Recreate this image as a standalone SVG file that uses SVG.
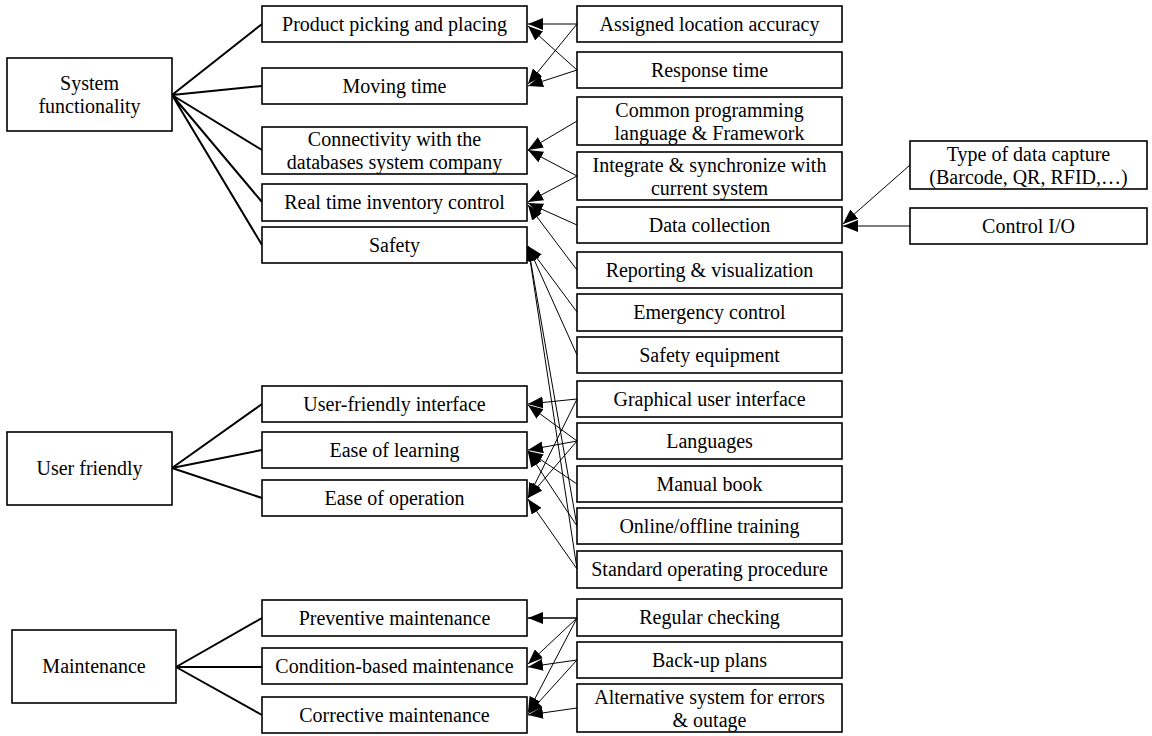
<svg xmlns="http://www.w3.org/2000/svg" width="1152" height="736" viewBox="0 0 1152 736">
<style>
.box{fill:#fff;stroke:#000;stroke-width:1.6}
text{font-family:"Times New Roman","Liberation Serif",Tinos,"DejaVu Serif",serif;font-size:20px;fill:#000;text-anchor:middle}
.thick{stroke:#000;stroke-width:2;fill:none}
.arr{stroke:#000;stroke-width:1;fill:none;marker-end:url(#ah)}
</style>
<defs>
<marker id="ah" markerUnits="userSpaceOnUse" markerWidth="16" markerHeight="12" refX="15" refY="6" orient="auto" viewBox="0 0 16 12">
<path d="M0,0 L15,6 L0,12 z" fill="#000"/>
</marker>
</defs>
<rect width="1152" height="736" fill="#fff"/>
<g id="connectors">
<path class="thick" d="M172,95 L262,24 M172,95 L262,86 M172,95 L262,150 M172,95 L262,202 M172,95 L262,245"/>
<path class="thick" d="M172,468 L262,404 M172,468 L262,450 M172,468 L262,498"/>
<path class="thick" d="M176,667 L262,618 M176,667 L262,667 M176,667 L262,715"/>
<line class="arr" x1="577" y1="24" x2="528" y2="24"/>
<line class="arr" x1="577" y1="24" x2="528" y2="84"/>
<line class="arr" x1="577" y1="70" x2="528" y2="26"/>
<line class="arr" x1="577" y1="70" x2="528" y2="86"/>
<line class="arr" x1="577" y1="121" x2="528" y2="150"/>
<line class="arr" x1="577" y1="176" x2="528" y2="150"/>
<line class="arr" x1="577" y1="176" x2="528" y2="202"/>
<line class="arr" x1="577" y1="225" x2="528" y2="203"/>
<line class="arr" x1="577" y1="270" x2="528" y2="205"/>
<line class="arr" x1="577" y1="312" x2="528" y2="246"/>
<line class="arr" x1="577" y1="355" x2="528" y2="246"/>
<line class="arr" x1="577" y1="526" x2="528" y2="246"/>
<line class="arr" x1="577" y1="569" x2="528" y2="246"/>
<line class="arr" x1="577" y1="399" x2="528" y2="404"/>
<line class="arr" x1="577" y1="399" x2="528" y2="498"/>
<line class="arr" x1="577" y1="441" x2="528" y2="405"/>
<line class="arr" x1="577" y1="441" x2="528" y2="450"/>
<line class="arr" x1="577" y1="441" x2="528" y2="498"/>
<line class="arr" x1="577" y1="484" x2="528" y2="451"/>
<line class="arr" x1="577" y1="526" x2="528" y2="452"/>
<line class="arr" x1="577" y1="569" x2="528" y2="499"/>
<line class="arr" x1="577" y1="618" x2="528" y2="618" style="stroke-width:1.6"/>
<line class="arr" x1="577" y1="618" x2="528" y2="664"/>
<line class="arr" x1="577" y1="618" x2="528" y2="712"/>
<line class="arr" x1="577" y1="660" x2="528" y2="667"/>
<line class="arr" x1="577" y1="660" x2="528" y2="714"/>
<line class="arr" x1="577" y1="708" x2="528" y2="715"/>
<line class="arr" x1="910" y1="165" x2="843" y2="224"/>
<line class="arr" x1="910" y1="226" x2="843" y2="226"/>
</g>
<g id="n-system-functionality"><rect class="box" x="7" y="58" width="165" height="73"/><text x="89.5" y="90">System</text><text x="89.5" y="113">functionality</text></g>
<g id="n-user-friendly"><rect class="box" x="7" y="432" width="165" height="73"/><text x="89.5" y="475">User friendly</text></g>
<g id="n-maintenance"><rect class="box" x="12" y="630" width="164" height="73"/><text x="94" y="673">Maintenance</text></g>
<g id="n-product"><rect class="box" x="262" y="6" width="265" height="36"/><text x="394.5" y="31">Product picking and placing</text></g>
<g id="n-moving"><rect class="box" x="262" y="68" width="265" height="36"/><text x="394.5" y="93">Moving time</text></g>
<g id="n-connectivity"><rect class="box" x="262" y="127" width="265" height="47"/><text x="394.5" y="146">Connectivity with the</text><text x="394.5" y="169">databases system company</text></g>
<g id="n-realtime"><rect class="box" x="262" y="184" width="265" height="37"/><text x="394.5" y="209">Real time inventory control</text></g>
<g id="n-safety"><rect class="box" x="262" y="227" width="265" height="36"/><text x="394.5" y="252">Safety</text></g>
<g id="n-ufi"><rect class="box" x="262" y="386" width="265" height="36"/><text x="394.5" y="411">User-friendly interface</text></g>
<g id="n-eol"><rect class="box" x="262" y="432" width="265" height="36"/><text x="394.5" y="457">Ease of learning</text></g>
<g id="n-eoo"><rect class="box" x="262" y="480" width="265" height="36"/><text x="394.5" y="505">Ease of operation</text></g>
<g id="n-preventive"><rect class="box" x="262" y="600" width="265" height="36"/><text x="394.5" y="625">Preventive maintenance</text></g>
<g id="n-condition"><rect class="box" x="262" y="648" width="265" height="36"/><text x="394.5" y="673">Condition-based maintenance</text></g>
<g id="n-corrective"><rect class="box" x="262" y="697" width="265" height="36"/><text x="394.5" y="722">Corrective maintenance</text></g>
<g id="n-assigned"><rect class="box" x="577" y="6" width="265" height="36"/><text x="709.5" y="31">Assigned location accuracy</text></g>
<g id="n-response"><rect class="box" x="577" y="52" width="265" height="36"/><text x="709.5" y="77">Response time</text></g>
<g id="n-common"><rect class="box" x="577" y="97" width="265" height="48"/><text x="709.5" y="117">Common programming</text><text x="709.5" y="140">language &amp; Framework</text></g>
<g id="n-integrate"><rect class="box" x="577" y="152" width="265" height="48"/><text x="709.5" y="172">Integrate &amp; synchronize with</text><text x="709.5" y="195">current system</text></g>
<g id="n-datacollection"><rect class="box" x="577" y="207" width="265" height="36"/><text x="709.5" y="232">Data collection</text></g>
<g id="n-reporting"><rect class="box" x="577" y="252" width="265" height="36"/><text x="709.5" y="277">Reporting &amp; visualization</text></g>
<g id="n-emergency"><rect class="box" x="577" y="294" width="265" height="37"/><text x="709.5" y="319">Emergency control</text></g>
<g id="n-safetyequip"><rect class="box" x="577" y="337" width="265" height="36"/><text x="709.5" y="362">Safety equipment</text></g>
<g id="n-gui"><rect class="box" x="577" y="381" width="265" height="36"/><text x="709.5" y="406">Graphical user interface</text></g>
<g id="n-languages"><rect class="box" x="577" y="423" width="265" height="36"/><text x="709.5" y="448">Languages</text></g>
<g id="n-manual"><rect class="box" x="577" y="466" width="265" height="36"/><text x="709.5" y="491">Manual book</text></g>
<g id="n-online"><rect class="box" x="577" y="508" width="265" height="36"/><text x="709.5" y="533">Online/offline training</text></g>
<g id="n-sop"><rect class="box" x="577" y="551" width="265" height="37"/><text x="709.5" y="576">Standard operating procedure</text></g>
<g id="n-regular"><rect class="box" x="577" y="599" width="265" height="37"/><text x="709.5" y="624">Regular checking</text></g>
<g id="n-backup"><rect class="box" x="577" y="642" width="265" height="36"/><text x="709.5" y="667">Back-up plans</text></g>
<g id="n-alternative"><rect class="box" x="577" y="684" width="265" height="48"/><text x="709.5" y="704">Alternative system for errors</text><text x="709.5" y="727">&amp; outage</text></g>
<g id="n-typedata"><rect class="box" x="910" y="141" width="237" height="48"/><text x="1028.5" y="161">Type of data capture</text><text x="1028.5" y="184">(Barcode, QR, RFID,…)</text></g>
<g id="n-controlio"><rect class="box" x="910" y="208" width="237" height="36"/><text x="1028.5" y="233">Control I/O</text></g>
</svg>
